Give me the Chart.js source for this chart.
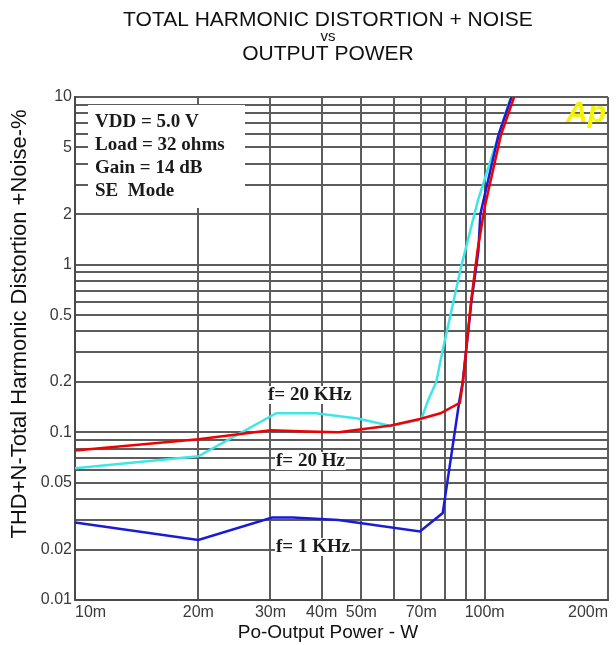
<!DOCTYPE html>
<html>
<head>
<meta charset="utf-8">
<script src="https://cdn.jsdelivr.net/npm/chart.js@4.4.1/dist/chart.umd.min.js"></script>
<style>
  html, body { margin: 0; padding: 0; background: #fff; }
  canvas { display: block; }
</style>
</head>
<body>
<canvas id="thd" width="616" height="645"></canvas>
<script>
// values: output power in W, THD+N in %
const powerRed = [0.01, 0.02, 0.03, 0.037, 0.044, 0.059, 0.0695, 0.078, 0.087, 0.0885, 0.0926, 0.096, 0.1, 0.1095, 0.118];
const thdRed   = [0.078, 0.091, 0.103, 0.101, 0.1, 0.11, 0.12, 0.13, 0.15, 0.2, 0.6, 1.2, 2.2, 5.9, 10];

const powerCyan = [0.01, 0.02, 0.031, 0.0387, 0.049, 0.059, 0.070, 0.0728, 0.0762, 0.079, 0.0876, 0.0962, 0.1158];
const thdCyan   = [0.061, 0.072, 0.13, 0.13, 0.121, 0.109, 0.119, 0.156, 0.2, 0.31, 0.97, 2.4, 10];

const powerBlue = [0.01, 0.02, 0.0303, 0.034, 0.044, 0.0695, 0.079, 0.0868, 0.0884, 0.0928, 0.0965, 0.0976, 0.108, 0.1163];
const thdBlue   = [0.029, 0.0228, 0.031, 0.031, 0.030, 0.0256, 0.033, 0.156, 0.2, 0.6, 1.2, 2.0, 5.9, 10];

const xTickValues = [0.01, 0.02, 0.03, 0.04, 0.05, 0.06, 0.07, 0.08, 0.09, 0.1, 0.2];
const xTickLabels = ['10m', '20m', '30m', '40m', '50m', '', '70m', '', '', '100m', '200m'];

const yTickValues = [0.01, 0.02, 0.03, 0.04, 0.05, 0.06, 0.07, 0.08, 0.09,
                     0.1, 0.2, 0.3, 0.4, 0.5, 0.6, 0.7, 0.8, 0.9,
                     1, 2, 3, 4, 5, 6, 7, 8, 9, 10];
const yTickLabels = ['0.01', '0.02', '', '', '0.05', '', '', '', '',
                     '0.1', '0.2', '', '', '0.5', '', '', '', '',
                     '1', '2', '', '', '5', '', '', '', '', '10'];

const conditions = ['VDD = 5.0 V', 'Load = 32 ohms', 'Gain = 14 dB', 'SE  Mode'];
const curveNotes = ['f= 20 KHz', 'f= 20 Hz', 'f= 1 KHz'];

const toPoints = (xs, ys) => xs.map((x, i) => ({ x: x, y: ys[i] }));

const panelText = {
    id: 'panelText',
    beforeDatasetsDraw(chart) {
        const ctx = chart.ctx;
        const a = chart.chartArea;
        ctx.save();
        // white box behind the test conditions
        ctx.fillStyle = '#fff';
        ctx.fillRect(a.left + 13, a.top + 8, 157, 103);
        ctx.font = 'bold 19px "Liberation Serif"';
        ctx.fillStyle = '#1a1a1a';
        ctx.textBaseline = 'middle';
        ctx.textAlign = 'left';
        conditions.forEach((t, i) => ctx.fillText(t, a.left + 20, a.top + 25 + i * 23));

        // curve labels, each on a tight white patch
        const notePos = [[268, 395], [276, 461], [276, 547]];
        curveNotes.forEach((t, i) => {
            const w = ctx.measureText(t).width;
            const [nx, ny] = notePos[i];
            ctx.fillStyle = '#fff';
            ctx.fillRect(nx - 1, ny - 9, w + 2, 18);
            ctx.fillStyle = '#1a1a1a';
            ctx.fillText(t, nx, ny);
        });

        // Audio Precision mark
        ctx.font = 'italic bold 30px "Liberation Sans"';
        ctx.fillStyle = '#f4f400';
        ctx.textAlign = 'right';
        ctx.fillText('Ap', a.right - 2, a.top + 17);
        ctx.restore();
    },
    afterDraw(chart) {
        const ctx = chart.ctx;
        ctx.save();
        ctx.fillStyle = '#111';
        ctx.textAlign = 'center';
        ctx.textBaseline = 'alphabetic';
        ctx.font = '21px "Liberation Sans"';
        ctx.fillText('TOTAL HARMONIC DISTORTION + NOISE', 328, 26);
        ctx.font = '15px "Liberation Sans"';
        ctx.fillText('vs', 328, 41);
        ctx.font = '21px "Liberation Sans"';
        ctx.fillText('OUTPUT POWER', 328, 60);

        ctx.font = '19px "Liberation Sans"';
        ctx.textBaseline = 'middle';
        ctx.fillText('Po-Output Power - W', 328, 633);

        ctx.translate(20, 324);
        ctx.rotate(-Math.PI / 2);
        ctx.font = '22px "Liberation Sans"';
        ctx.fillText('THD+N-Total Harmonic Distortion +Noise-%', 0, 0);
        ctx.restore();
    }
};

const gridStyle = { color: '#5c5c5c', lineWidth: 2, drawTicks: false };
const tickFont = { family: '"Liberation Sans"', size: 16 };

new Chart(document.getElementById('thd').getContext('2d'), {
    type: 'line',
    data: {
        datasets: [{
            label: 'red',
            data: toPoints(powerRed, thdRed),
            borderColor: '#f00000'
        }, {
            label: 'blue',
            data: toPoints(powerBlue, thdBlue),
            borderColor: '#1a1ad8'
        }, {
            label: 'cyan',
            data: toPoints(powerCyan, thdCyan),
            borderColor: '#40e6e6'
        }]
    },
    options: {
        responsive: false,
        animation: false,
        devicePixelRatio: 1,
        layout: { padding: { top: 97, right: 8, bottom: 0, left: 0 } },
        elements: {
            line: { borderWidth: 2.5, tension: 0 },
            point: { radius: 0 }
        },
        plugins: {
            legend: { display: false },
            tooltip: { enabled: false }
        },
        scales: {
            x: {
                type: 'logarithmic',
                min: 0.01,
                max: 0.2,
                grid: gridStyle,
                border: { color: '#4a4a4a', width: 2 },
                afterBuildTicks: s => { s.ticks = xTickValues.map(v => ({ value: v })); },
                afterFit: s => { s.height = 45; },
                ticks: {
                    autoSkip: false,
                    maxRotation: 0,
                    align: 'inner',
                    padding: 3,
                    color: '#3a3a3a',
                    font: tickFont,
                    callback: (v, i) => xTickLabels[i]
                }
            },
            y: {
                type: 'logarithmic',
                min: 0.01,
                max: 10,
                grid: gridStyle,
                border: { color: '#4a4a4a', width: 2 },
                afterBuildTicks: s => { s.ticks = yTickValues.map(v => ({ value: v })); },
                afterFit: s => { s.width = 75; },
                ticks: {
                    autoSkip: false,
                    padding: 3,
                    color: '#3a3a3a',
                    font: tickFont,
                    callback: (v, i) => yTickLabels[i]
                }
            }
        }
    },
    plugins: [panelText]
});
</script>
</body>
</html>
